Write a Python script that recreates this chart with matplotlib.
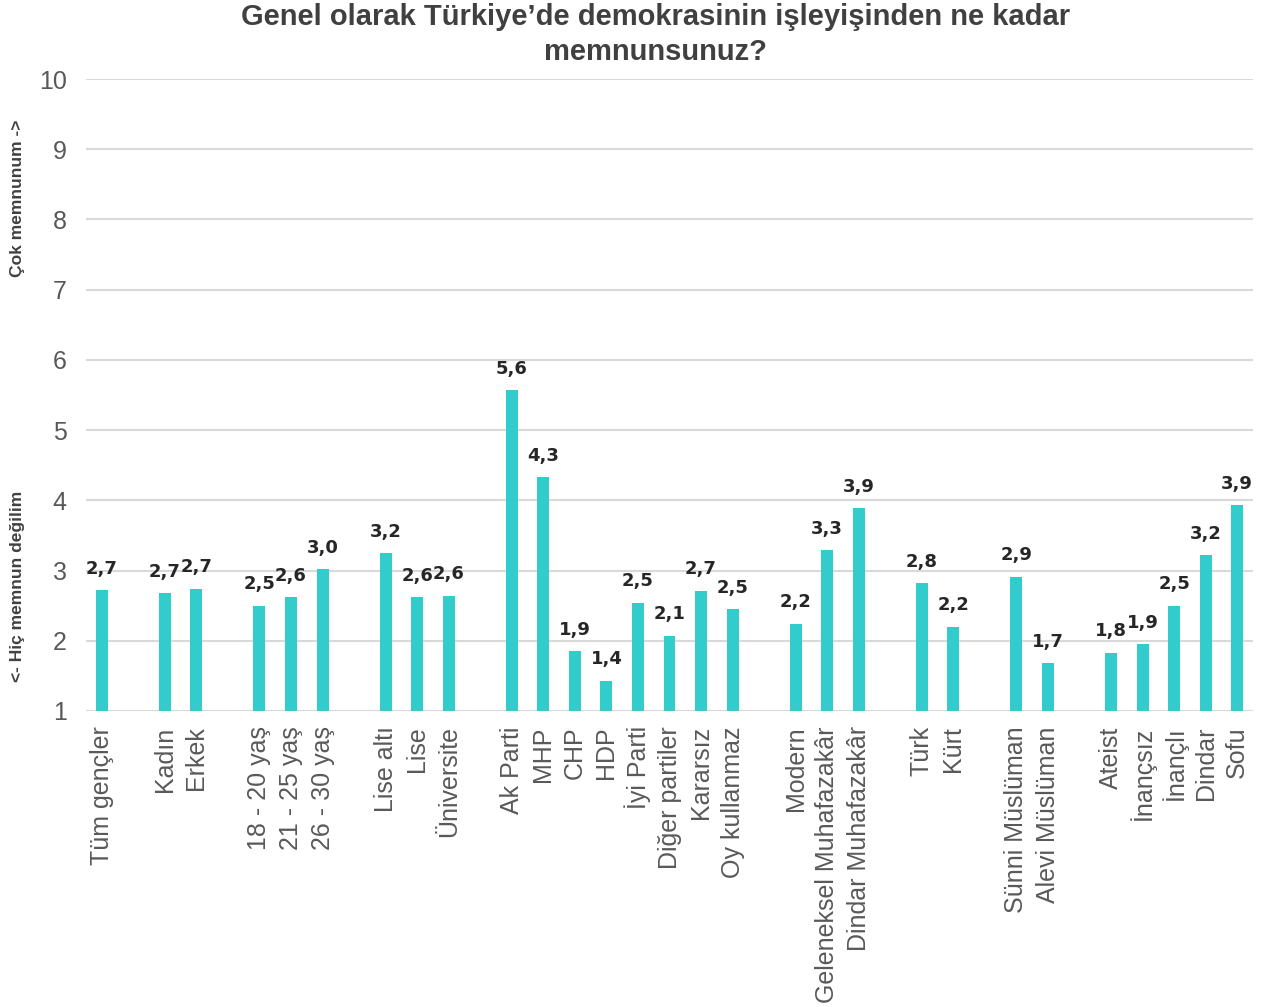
import matplotlib
matplotlib.use("Agg")
import matplotlib.pyplot as plt
from matplotlib import font_manager as fm

# Survey groups; empty strings are spacer slots between group blocks
categories = [
    "Tüm gençler", "",
    "Kadın", "Erkek", "",
    "18 - 20 yaş", "21 - 25 yaş", "26 - 30 yaş", "",
    "Lise altı", "Lise", "Üniversite", "",
    "Ak Parti", "MHP", "CHP", "HDP", "İyi Parti", "Diğer partiler", "Kararsız", "Oy kullanmaz", "",
    "Modern", "Geleneksel Muhafazakâr", "Dindar Muhafazakâr", "",
    "Türk", "Kürt", "",
    "Sünni Müslüman", "Alevi Müslüman", "",
    "Ateist", "İnançsız", "İnançlı", "Dindar", "Sofu",
]
values = [
    2.72, None,
    2.68, 2.74, None,
    2.50, 2.62, 3.02, None,
    3.25, 2.62, 2.64, None,
    5.57, 4.33, 1.85, 1.43, 2.54, 2.07, 2.71, 2.45, None,
    2.24, 3.29, 3.89, None,
    2.82, 2.20, None,
    2.91, 1.68, None,
    1.83, 1.95, 2.50, 3.22, 3.93,
]
yticks = list(range(1, 11))

title = "Genel olarak Türkiye’de demokrasinin işleyişinden ne kadar\nmemnunsunuz?"
ylabel_top = "Çok memnunum ->"
ylabel_bottom = "<- Hiç memnun değilim"

available = {f.name for f in fm.fontManager.ttflist}
title_family = "Liberation Sans Narrow" if "Liberation Sans Narrow" in available else "Liberation Sans"

bar_color = "#33CCCC"
grid_color = "#D9D9D9"
tick_color = "#595959"
dark = "#404040"

fig = plt.figure(figsize=(12.7, 10.07), dpi=100)
ax = fig.add_axes([86 / 1270, 1 - 711 / 1007, (1253 - 86) / 1270, (711 - 79) / 1007])

xs = list(range(len(categories)))
bar_x = [x for x, v in zip(xs, values) if v is not None]
bar_v = [v for v in values if v is not None]

ax.set_ylim(1, 10)
ax.set_xlim(-0.5, len(categories) - 0.5)
ax.set_yticks(yticks)
ax.yaxis.grid(True, color=grid_color, linewidth=1.5)
ax.set_axisbelow(True)
for s in ax.spines.values():
    s.set_visible(False)

ax.bar(bar_x, [v - 1 for v in bar_v], bottom=1, width=0.38, color=bar_color, zorder=3)

for x, v in zip(bar_x, bar_v):
    ax.annotate(f"{v:.1f}".replace(".", ","), xy=(x, v), xytext=(0, 9),
                textcoords="offset points", ha="center", va="bottom",
                fontsize=13, fontweight="bold", color="#262626",
                family="DejaVu Sans")

ax.set_xticks(xs)
ax.set_xticklabels(categories, rotation=90, fontsize=18, color=tick_color,
                   family="Liberation Sans")
ax.tick_params(axis="x", length=0, pad=11)
ax.tick_params(axis="y", length=0, pad=14, labelsize=18, labelcolor=tick_color)
for lab in ax.get_yticklabels():
    lab.set_family("Liberation Sans")

fig.text(0.516, 0.997, title, ha="center", va="top", fontsize=21, fontweight="bold",
         color=dark, family=title_family, linespacing=1.3)
fig.text(18 / 1270, 1 - 198 / 1007, ylabel_top, rotation=90, ha="center", va="center",
         fontsize=12.5, fontweight="bold", color=dark, family="Liberation Sans")
fig.text(18 / 1270, 1 - 586 / 1007, ylabel_bottom, rotation=90, ha="center", va="center",
         fontsize=12.5, fontweight="bold", color=dark, family="Liberation Sans")

fig.savefig("out.png", dpi=100, facecolor="white")
